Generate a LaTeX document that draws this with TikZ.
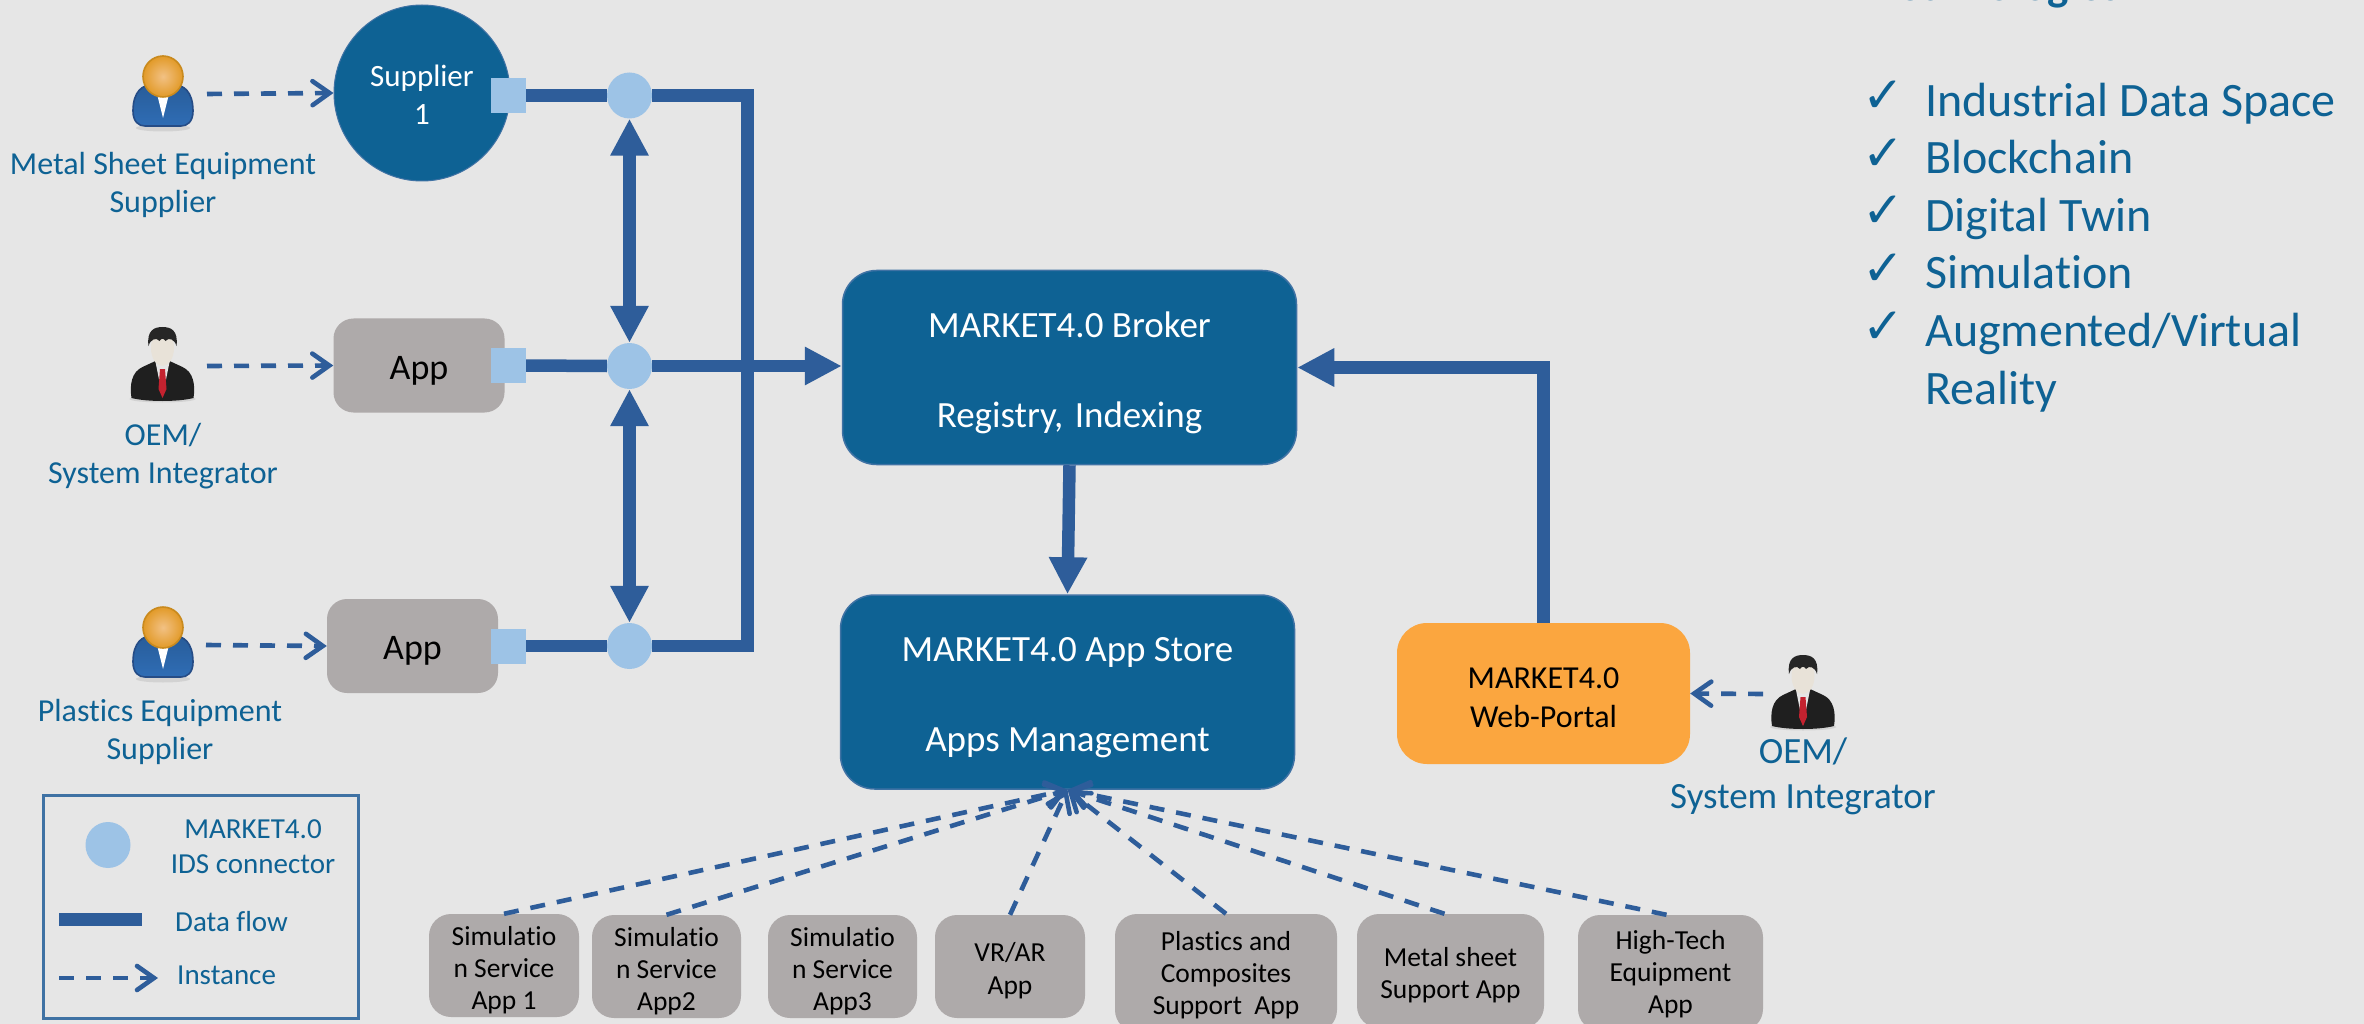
\documentclass[tikz,border=0pt]{standalone}
\usepackage{fontspec}
\setmainfont[Ligatures=NoCommon]{Carlito}
\newfontfamily\checkfont{DejaVu Sans}
\usetikzlibrary{arrows.meta,shapes.geometric}
\definecolor{bgc}{HTML}{E6E6E6}
\definecolor{flowc}{HTML}{2E5D9A}
\definecolor{tealc}{HTML}{0E6294}
\definecolor{edgec}{HTML}{3F72A4}
\definecolor{lightc}{HTML}{9DC3E6}
\definecolor{greyc}{HTML}{AEAAAA}
\definecolor{orangec}{HTML}{FBA63F}
\definecolor{headin}{HTML}{F2C184}
\definecolor{headout}{HTML}{E29A28}
\definecolor{headrim}{HTML}{C98A1E}
\definecolor{suitin}{HTML}{2F6DB5}
\definecolor{suitrim}{HTML}{254C86}
\definecolor{facec}{HTML}{E8E2D8}
\definecolor{tiec}{HTML}{C4222F}
\newcommand{\fsz}[2]{\fontsize{#1}{#2}\selectfont}
% lines set in a zero-height box, so that they can sit lower than the centre of their shape
\newcommand{\tb}[2]{\raisebox{\dimexpr-.25em-#1\relax}[0pt][0pt]{\begin{tabular}{@{}c@{}}#2\end{tabular}}}
\tikzset{
  st/.style={inner sep=0pt,align=center,
    execute at begin node={\rule{0pt}{\dimexpr.7\baselineskip+#1\relax}},
    execute at end node=\strut},
  st/.default=0pt,
  flow/.style={draw=flowc,line width=12.5pt,line join=miter},
  flowhead/.style={flow,-{Triangle[length=37pt,width=36pt]}},
  flowboth/.style={flow,{Triangle[length=37pt,width=36pt]}-{Triangle[length=37pt,width=36pt]}},
  inst/.style={draw=flowc,line width=4.6pt,dash pattern=on 15pt off 12pt,
    -{Straight Barb[length=17pt,width=24pt,line cap=round,line width=4.6pt]}},
  idsconn/.style={shape=ellipse,fill=lightc,minimum width=45pt,minimum height=46pt,inner sep=0pt},
  port/.style={shape=rectangle,fill=lightc,minimum width=35pt,minimum height=35pt,inner sep=0pt},
  bluebox/.style={inner sep=0pt,shape=rectangle,rounded corners=34pt,fill=tealc,draw=edgec,line width=1.5pt,
    text=white,font=\fsz{37}{45},minimum width=454pt,minimum height=194pt},
  appbox/.style={st=9pt,shape=rectangle,rounded corners=20pt,fill=greyc,text=black,font=\fsz{36}{45},
    minimum width=171pt,minimum height=94pt},
  smallapp/.style={inner sep=0pt,shape=rectangle,rounded corners=22pt,fill=greyc,text=black,font=\fsz{27.5}{32.3}},
  who/.style={st,text=tealc,font=\fsz{32}{38}},
  orangeperson/.pic={
    \fill[gray!45,opacity=.6] (0,72) ellipse (27 and 3.5);
    \draw[draw=suitrim,line width=1.6pt,top color=suitin!85!black,bottom color=suitin]
      (-30,55) .. controls (-30,35) and (-20,29) .. (-12,29) -- (12,29)
      .. controls (20,29) and (30,35) .. (30,55) .. controls (30,66) and (24,70) .. (18,70)
      -- (-18,70) .. controls (-24,70) and (-30,66) .. (-30,55) -- cycle;
    \fill[white] (-6,38) -- (6,38) -- (0,62) -- cycle;
    \draw[draw=headrim,line width=1.6pt,inner color=headin,outer color=headout]
      (0,20.5) ellipse (20 and 20.5);
  },
  darkperson/.pic={
    \fill[gray!45,opacity=.6] (0,72) ellipse (33 and 3.5);
    \fill[black!88] (-31,71) .. controls (-33,58) and (-31,45) .. (-20,40) -- (-7,34) -- (7,34)
      -- (20,40) .. controls (31,45) and (33,58) .. (31,71) .. controls (15,75) and (-15,75) .. (-31,71) -- cycle;
    \fill[white!90!black] (-7,35) -- (7,35) -- (0,70) -- cycle;
    \fill[tiec] (-2.5,42) -- (2.5,42) -- (4,62) -- (0,71) -- (-4,62) -- cycle;
    \fill[facec] (0,21) ellipse (11.5 and 18);
    \fill[black!85] (-14,19) .. controls (-16,3) and (-8,0) .. (0,0) .. controls (8,0) and (16,3) .. (14,19)
      .. controls (12,12) and (6,10) .. (3,14) .. controls (1,11) and (-1,11) .. (-3,14)
      .. controls (-6,10) and (-12,12) .. (-14,19) -- cycle;
  },
}
\begin{document}
\begin{tikzpicture}[x=1pt,y=-1pt]
\fill[bgc] (0,0) rectangle (2364,1024);
\useasboundingbox (0,0) rectangle (2364,1024);

% nodes
\node[shape=circle,fill=tealc,draw=edgec,line width=1pt,minimum size=176pt,inner sep=0pt,text=white,font=\fsz{31}{38}] (sup) at (422,93) {\tb{3pt}{Supplier\\1}};
\node[appbox] (app1) at (419,365.5) {App};
\node[appbox,minimum width=171pt] (app2) at (412.5,646) {App};
\node[bluebox] (broker) at (1069.5,367.5) {\tb{3pt}{MARKET4.0 Broker\\[45pt]Registry,\ \hspace{3pt}Indexing}};
\node[bluebox] (store) at (1067.5,692) {\tb{2pt}{MARKET4.0 App Store\\[45pt]Apps Management}};
\node[inner sep=0pt,shape=rectangle,rounded corners=30pt,fill=orangec,text=black,font=\fsz{32}{39},minimum width=293pt,minimum height=141pt] (web) at (1543.5,693.5) {\tb{4.5pt}{MARKET4.0\\Web-Portal}};

\node[port] (p1) at (508.5,95.5) {};
\node[port] (p2) at (508.5,365.5) {};
\node[port] (p3) at (508.5,646) {};
\node[idsconn] (c1) at (629.5,95.5) {};
\node[idsconn] (c2) at (629.5,366) {};
\node[idsconn] (c3) at (629.5,646) {};

% people
\pic at (163,56) {orangeperson};
\pic at (162.5,327) {darkperson};
\pic at (163,607) {orangeperson};
\pic at (1803,655) {darkperson};
\node[who] (w1) at (163,188) {Metal Sheet Equipment\\Supplier};
\node[who] (w2) at (163,459.5) {OEM/\\System Integrator};
\node[who] (w3) at (160,735) {Plastics Equipment\\Supplier};
\node[st,text=tealc,font=\fsz{37}{45}] (w4) at (1803,779.5) {OEM/\\System Integrator};

\coordinate (s1) at (207,94);
\coordinate (s2) at (207,366);
\coordinate (s3) at (206,645);
\coordinate (s4) at (1763,694);
\draw[inst] (s1) -- (sup.west);
\draw[inst] (s2) -- (app1.west);
\draw[inst] (s3) -- (app2.west);
\draw[inst] (s4) -- (web.east);

% data flow
\draw[flow] (p1.east) -- (c1.west);
\draw[flow] (p2.east) -- (c2.west);
\draw[flow] (p3.east) -- (c3.west);
\coordinate (busT) at (747.5,95.5);
\coordinate (busB) at (747.5,646);
\draw[flow] (c1.east) -- (busT) -- (busB) -- (c3.east);
\draw[flowhead] (c2.east) -- (broker.west |- c2.east);
\draw[flowboth] (c1.south) -- (c2.north);
\draw[flowboth] (c2.south) -- (c3.north);
\draw[flowhead] (broker.south) -- (store.north);
\draw[flowhead] (web.north) |- (broker.east);

% bottom apps
\node[smallapp,minimum width=150pt,minimum height=103pt] (a1) at (504,965.5) {\tb{5pt}{Simulatio\\n Service\\App 1}};
\node[smallapp,minimum width=149pt,minimum height=103pt] (a2) at (666.5,966.5) {\tb{5pt}{Simulatio\\n Service\\App2}};
\node[smallapp,minimum width=149pt,minimum height=103pt] (a3) at (842.5,966.5) {\tb{5pt}{Simulatio\\n Service\\App3}};
\node[smallapp,minimum width=150pt,minimum height=103pt] (a4) at (1010,966.5) {\tb{4.5pt}{VR/AR\\App}};
\node[smallapp,minimum width=222pt,minimum height=118pt] (a5) at (1226,973) {\tb{2.5pt}{Plastics and\\Composites\\Support\ \ App}};
\node[smallapp,minimum width=187pt,minimum height=114pt] (a6) at (1450.5,971) {\tb{4.5pt}{Metal sheet\\Support App}};
\node[smallapp,minimum width=185pt,minimum height=116pt] (a7) at (1670.5,973) {\tb{1.5pt}{High-Tech\\Equipment\\App}};
\draw[inst] (a1.north) -- (store.south);
\draw[inst] (a2.north) -- (store.south);
\draw[inst] (a4.north) -- (store.south);
\draw[inst] (a5.north) -- (store.south);
\draw[inst] ([xshift=-6pt]a6.north) -- (store.south);
\draw[inst] ([xshift=-4pt]a7.north) -- (store.south);

% legend
\node[shape=rectangle,draw=edgec,line width=3pt,minimum width=315pt,minimum height=223pt,inner sep=0pt] (legend) at (200.5,906.5) {};
\node[idsconn] (lg1) at (108,845) {};
\node[st,text=tealc,font=\fsz{29}{35}] (lg1t) at (253,852) {MARKET4.0\\IDS connector};
\node[shape=rectangle,fill=flowc,minimum width=83pt,minimum height=13pt,inner sep=0pt] (lg2) at (100.5,919.5) {};
\node[st,text=tealc,font=\fsz{29}{35},anchor=west] (lg2t) at (175,924.5) {Data flow};
\coordinate (lg3a) at (59,978);
\coordinate (lg3b) at (158,978);
\draw[inst] (lg3a) -- (lg3b);
\node[st,text=tealc,font=\fsz{29}{35},anchor=west] (lg3t) at (177,977.5) {Instance};

% technology list
\node[inner sep=0pt,anchor=base,text=tealc,font=\fsz{45}{52}\bfseries] (title) at (2000,1) {Technologies};
\node[st,align=left,anchor=west,text=tealc,font=\fsz{48}{57.6}] (list) at (1925,252) {Industrial Data Space\\Blockchain\\Digital Twin\\Simulation\\Augmented/Virtual\\Reality};
\node[st,align=left,anchor=north west,text=tealc,font=\fsz{50}{57.6}\checkfont] (ticks) at (1862,81) {✓\\✓\\✓\\✓\\✓};
\end{tikzpicture}
\end{document}
